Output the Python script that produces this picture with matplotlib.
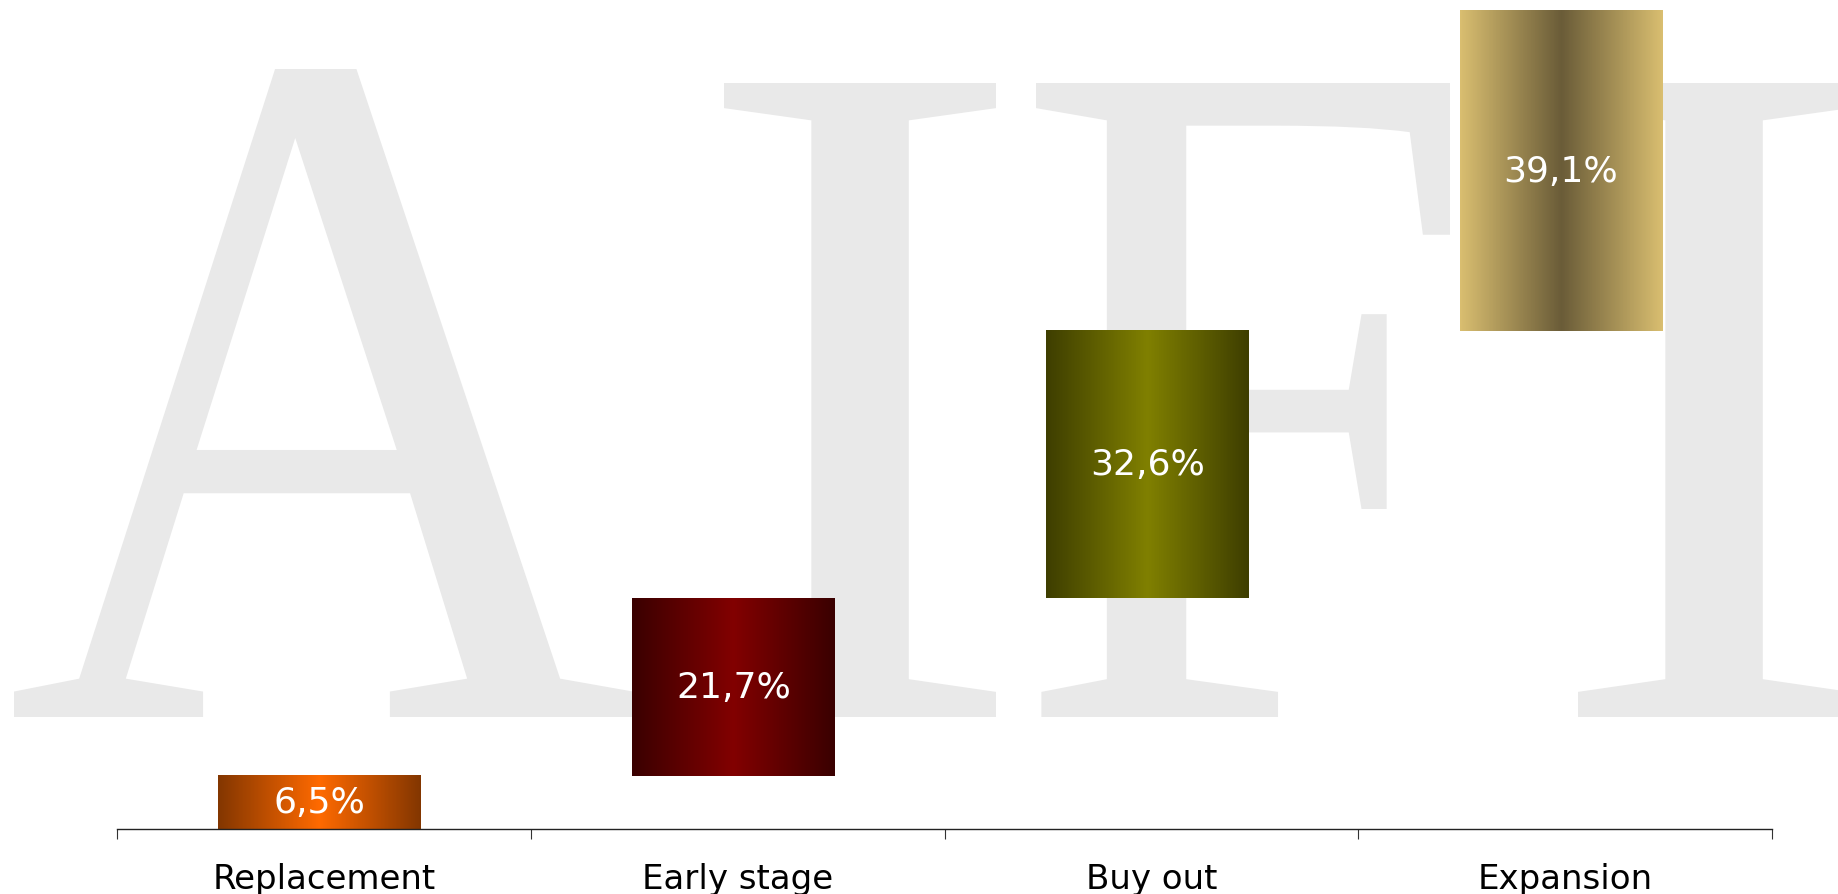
import numpy as np
import matplotlib
matplotlib.use('Agg')
import matplotlib.pyplot as plt
from matplotlib.colors import LinearSegmentedColormap
from matplotlib.font_manager import FontProperties
from matplotlib.patches import PathPatch
from matplotlib.textpath import TextPath
from matplotlib.transforms import Affine2D

categories = ['Replacement', 'Early stage', 'Buy out', 'Expansion']
values = [6.5, 21.7, 32.6, 39.1]
labels = ['6,5%', '21,7%', '32,6%', '39,1%']
# (edge colour, centre colour) for each bar gradient
grad_colors = [('#833600', '#ff6a00'),
               ('#3a0000', '#820000'),
               ('#3e3e00', '#808000'),
               ('#d9be70', '#6a5c38')]

W, H = 1838, 895
fig = plt.figure(figsize=(W / 100, H / 100), dpi=100)
fig.patch.set_facecolor('white')

# big grey "AIFI" watermark behind the chart, each letter fitted to a box (px)
wm_font = FontProperties(family='Liberation Serif')
wm_boxes = [('A', 14, 633, 70, 718),
            ('I', 724, 996, 84, 718),
            ('F', 1036, 1450, 84, 718),
            ('I', 1578, 1850, 84, 718)]
for ch, x0, x1, top, base in wm_boxes:
    tp = TextPath((0, 0), ch, size=100, prop=wm_font)
    ext = tp.get_extents()
    tr = (Affine2D().translate(-ext.x0, -ext.y0)
          .scale((x1 - x0) / ext.width / W, (base - top) / ext.height / H)
          .translate(x0 / W, (H - base) / H))
    fig.add_artist(PathPatch(tr.transform_path(tp), facecolor='#e9e9e9',
                             edgecolor='none', transform=fig.transFigure,
                             zorder=-5))

ax = fig.add_axes([117 / W, 65 / H, 1655 / W, 830 / H])
ax.patch.set_visible(False)

x = np.arange(len(categories))
bottoms = np.concatenate([[0], np.cumsum(values)[:-1]])
bars = ax.bar(x - 0.01, values, bottom=bottoms, width=0.49, color='none',
              edgecolor='none')

# 0 at the edges, 1 in the middle of the bar
t = np.linspace(0, 1, 256)
grad = (1 - np.abs(2 * t - 1))[None, :]
for b, (edge, centre), lab in zip(bars, grad_colors, labels):
    cmap = LinearSegmentedColormap.from_list('g', [edge, centre])
    bx, by, bw, bh = b.get_x(), b.get_y(), b.get_width(), b.get_height()
    ax.imshow(grad, cmap=cmap, extent=[bx, bx + bw, by, by + bh],
              aspect='auto', vmin=0, vmax=1, zorder=2,
              interpolation='nearest')
    ax.text(bx + bw / 2, by + bh / 2, lab, color='white', fontsize=26,
            ha='center', va='center', zorder=3)

ax.set_xlim(-0.5, len(categories) - 0.5)
ax.set_ylim(0, 101.3)

ax.set_xticks(np.arange(len(categories) + 1) - 0.5)
ax.set_xticklabels([])
ax.tick_params(axis='x', which='major', direction='out', length=7,
               width=0.8, color='#333333')
ax.set_xticks(x, minor=True)
ax.set_xticklabels(categories, minor=True, fontsize=24.5)
ax.tick_params(axis='x', which='minor', length=0, pad=24)

ax.set_yticks([])
for s in ['top', 'left', 'right']:
    ax.spines[s].set_visible(False)
ax.spines['bottom'].set_linewidth(1)
ax.spines['bottom'].set_color('#222222')

fig.savefig('out.png', dpi=100, facecolor='white')
